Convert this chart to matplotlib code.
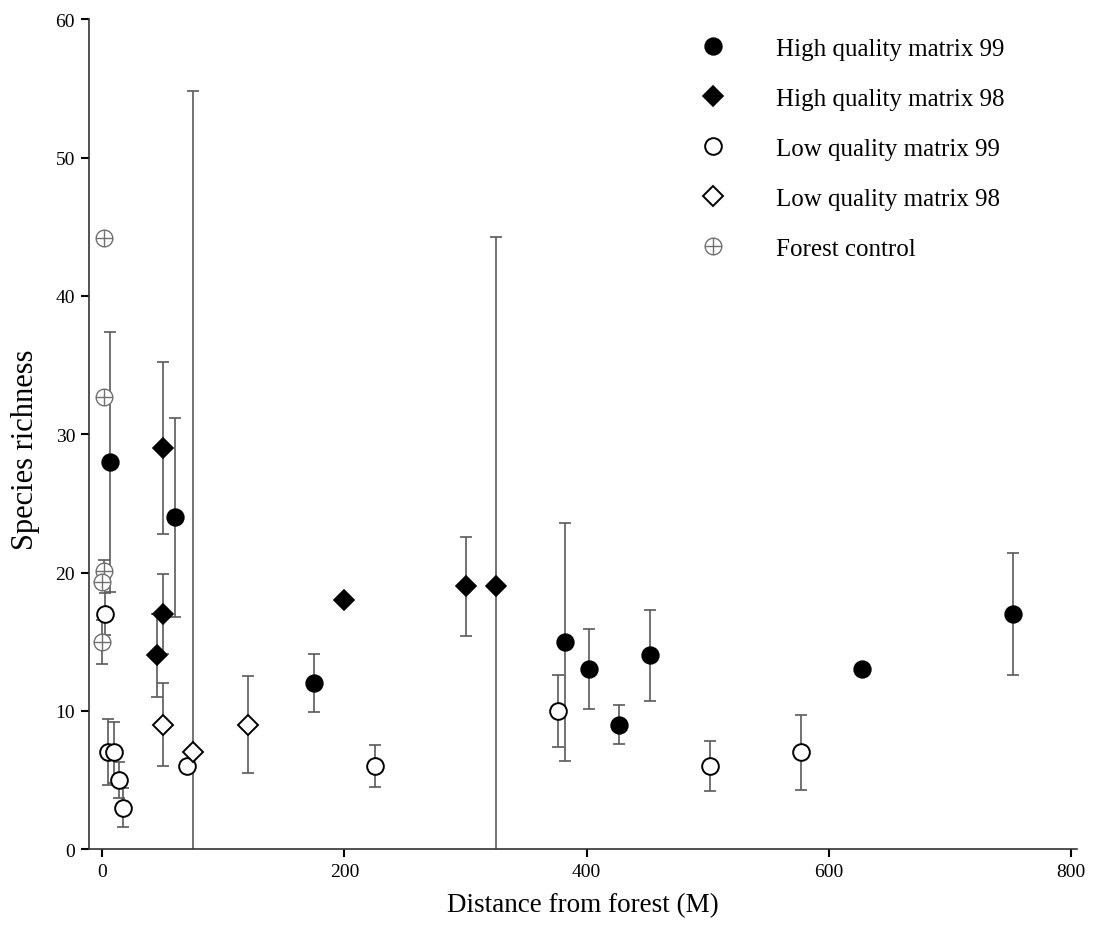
import matplotlib
matplotlib.use("Agg")
import matplotlib.pyplot as plt
from matplotlib.path import Path

plt.rcParams['font.family'] = ['Liberation Serif', 'DejaVu Serif']

# High quality matrix 99 (filled circles)
hq99_x = [6, 60, 175, 382, 402, 427, 452, 627, 752]
hq99_y = [28, 24, 12, 15, 13, 9, 14, 13, 17]
hq99_err = [9.4, 7.2, 2.1, 8.6, 2.9, 1.4, 3.3, 0, 4.4]

# High quality matrix 98 (filled diamonds)
hq98_x = [45, 50, 50, 200, 300, 325]
hq98_y = [14, 17, 29, 18, 19, 19]
hq98_err = [3.0, 2.9, 6.2, 0, 3.6, 25.3]

# Low quality matrix 99 (open circles)
lq99_x = [2, 5, 10, 14, 17, 70, 225, 376, 502, 577]
lq99_y = [17, 7, 7, 5, 3, 6, 6, 10, 6, 7]
lq99_err = [1.5, 2.4, 2.2, 1.3, 1.4, 0, 1.5, 2.6, 1.8, 2.7]

# Low quality matrix 98 (open diamonds)
lq98_x = [50, 75, 120]
lq98_y = [9, 7, 9]
lq98_err = [3.0, 47.8, 3.5]

# Forest control
forest_x = [1, 1, 1, 0, 0]
forest_y = [44.2, 32.7, 20.1, 19.3, 15.0]
forest_err = [0, 0, 0.8, 0, 1.6]

labels = ["High quality matrix 99", "High quality matrix 98",
          "Low quality matrix 99", "Low quality matrix 98", "Forest control"]

# circle with a cross inside
circ = Path.unit_circle()
cross = Path([(-1, 0), (1, 0), (0, -1), (0, 1)],
             [Path.MOVETO, Path.LINETO, Path.MOVETO, Path.LINETO])
circle_plus = Path.make_compound_path(circ, cross)

fig = plt.figure(figsize=(10.93, 9.29), dpi=100)
ax = fig.add_axes([0.0814, 0.085, 0.904, 0.893])

ecol = '#5a5a5a'
series = [
    (hq99_x, hq99_y, hq99_err, dict(marker='o', ms=12, mfc='black', mec='black', mew=1.2)),
    (hq98_x, hq98_y, hq98_err, dict(marker='D', ms=10.5, mfc='black', mec='black', mew=1.2)),
    (lq99_x, lq99_y, lq99_err, dict(marker='o', ms=12, mfc='white', mec='black', mew=1.4)),
    (lq98_x, lq98_y, lq98_err, dict(marker='D', ms=10.5, mfc='white', mec='black', mew=1.4)),
    (forest_x, forest_y, forest_err, dict(marker=circle_plus, ms=12, mfc='white', mec='#707070', mew=1.0)),
]

for (x, y, e, style), lab in zip(series, labels):
    ax.errorbar(x, y, yerr=e, fmt='none', ecolor=ecol, elinewidth=1.2,
                capsize=4.5, capthick=1.2, zorder=2)
    ax.plot(x, y, linestyle='none', label=lab, zorder=3, **style)

ax.set_xlim(-11, 805)
ax.set_ylim(0, 60)
ax.set_xticks([0, 200, 400, 600, 800])
ax.set_yticks([0, 10, 20, 30, 40, 50, 60])
ax.spines['top'].set_visible(False)
ax.spines['right'].set_visible(False)
for s in ['left', 'bottom']:
    ax.spines[s].set_linewidth(1.2)
    ax.spines[s].set_color('#333333')
ax.tick_params(direction='out', length=6, width=1.5, labelsize=14, pad=4)

ax.set_xlabel("Distance from forest (M)", fontsize=19.5)
ax.xaxis.set_label_coords(0.5, -0.052)
ax.set_ylabel("Species richness", fontsize=22)
ax.yaxis.set_label_coords(-0.05, 0.482)

ax.legend(loc='upper left', bbox_to_anchor=(0.641, 0.9585),
          bbox_transform=fig.transFigure, frameon=False, fontsize=18,
          handlelength=1.0, handletextpad=2.0, labelspacing=1.1,
          borderpad=0, borderaxespad=0, numpoints=1)

fig.savefig("out.png", dpi=100)
